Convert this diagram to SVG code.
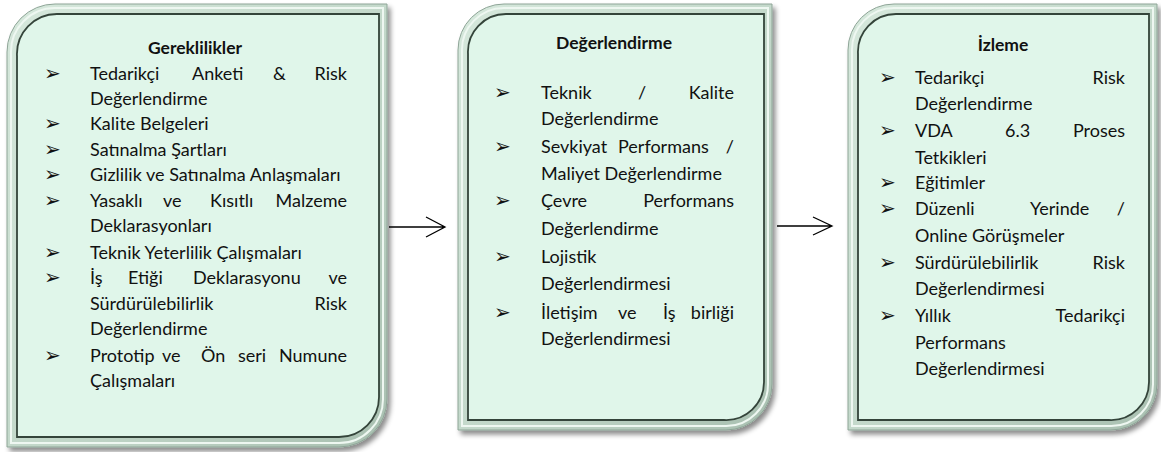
<svg xmlns="http://www.w3.org/2000/svg" width="1161" height="452" viewBox="0 0 1161 452">
<style>
  .t{font-family:Lato,"Noto Sans",sans-serif;font-size:18px;fill:#111}
  .h{font-family:Lato,"Noto Sans",sans-serif;font-size:17.5px;font-weight:bold;fill:#111;text-anchor:middle}
  .e{text-anchor:end}
  .b{font-family:"DejaVu Sans",sans-serif;font-size:20px;fill:#111}
  .outer{fill:url(#band);stroke:#8ea597;stroke-width:1;filter:url(#sh)}
  .hl{fill:none;stroke:#eef7f1;stroke-width:2}
  .inner{fill:#e0f6ea;stroke:#34443a;stroke-width:1.8}
  .conn{stroke:#000;stroke-width:1.3;fill:none}
</style>
<defs>
  <linearGradient id="band" x1="0" y1="0" x2="1" y2="1">
    <stop offset="0" stop-color="#d6e8dc"/>
    <stop offset="0.5" stop-color="#c4d9cb"/>
    <stop offset="1" stop-color="#a9c0b1"/>
  </linearGradient>
  <filter id="sh" x="-5%" y="-5%" width="115%" height="115%">
    <feDropShadow dx="3" dy="4" stdDeviation="2.5" flood-color="#000" flood-opacity="0.45"/>
  </filter>
</defs>
<rect width="1161" height="452" fill="#fff"/>

<g id="node-gereklilikler">
  <path class="outer" d="M7,52 A48,48 0 0 1 55,4 H387 V399 A48,48 0 0 1 339,447 H7 Z"/>
  <path class="hl" d="M11,54 A44,44 0 0 1 56,8 H383 V398 A44,44 0 0 1 339,443 H11 Z"/>
  <path class="inner" d="M17,56 A40,40 0 0 1 57,14 H379 V397 A40,40 0 0 1 339,437 H17 Z"/>
  <text class="h" x="195" y="54">Gereklilikler</text>
  <text class="b" x="44" y="80">➢</text>
  <text class="t" x="90" y="80">Tedarikçi</text><text class="t" x="192" y="80">Anketi</text><text class="t" x="273" y="80">&amp;</text><text class="t e" x="347" y="80">Risk</text>
  <text class="t" x="90" y="105">Değerlendirme</text>
  <text class="b" x="44" y="130">➢</text><text class="t" x="90" y="130">Kalite Belgeleri</text>
  <text class="b" x="44" y="156">➢</text><text class="t" x="90" y="156">Satınalma Şartları</text>
  <text class="b" x="44" y="181">➢</text><text class="t" x="90" y="181">Gizlilik ve Satınalma Anlaşmaları</text>
  <text class="b" x="44" y="207">➢</text>
  <text class="t" x="90" y="207">Yasaklı</text><text class="t" x="163" y="207">ve</text><text class="t" x="210" y="207">Kısıtlı</text><text class="t e" x="347" y="207">Malzeme</text>
  <text class="t" x="90" y="232">Deklarasyonları</text>
  <text class="b" x="44" y="259">➢</text><text class="t" x="90" y="259">Teknik Yeterlilik Çalışmaları</text>
  <text class="b" x="44" y="284">➢</text>
  <text class="t" x="90" y="284">İş</text><text class="t" x="128" y="284">Etiği</text><text class="t" x="193" y="284">Deklarasyonu</text><text class="t e" x="347" y="284">ve</text>
  <text class="t" x="90" y="310">Sürdürülebilirlik</text><text class="t e" x="347" y="310">Risk</text>
  <text class="t" x="90" y="335">Değerlendirme</text>
  <text class="b" x="44" y="362">➢</text>
  <text class="t" x="90" y="362">Prototip</text><text class="t" x="162" y="362">ve</text><text class="t" x="201" y="362">Ön</text><text class="t" x="238" y="362">seri</text><text class="t e" x="347" y="362">Numune</text>
  <text class="t" x="90" y="387">Çalışmaları</text>
</g>

<g id="node-degerlendirme">
  <path class="outer" d="M458,50 A46,46 0 0 1 504,4 H772 V384 A46,46 0 0 1 726,430 H458 Z"/>
  <path class="hl" d="M462,52 A42,42 0 0 1 505,8 H768 V383 A42,42 0 0 1 725,426 H462 Z"/>
  <path class="inner" d="M468,54 A38,38 0 0 1 506,14 H764 V382 A38,38 0 0 1 724,420 H468 Z"/>
  <text class="h" x="614" y="49">Değerlendirme</text>
  <text class="b" x="494" y="99">➢</text>
  <text class="t" x="541" y="99">Teknik</text><text class="t" x="638" y="99">/</text><text class="t e" x="734" y="99">Kalite</text>
  <text class="t" x="541" y="125">Değerlendirme</text>
  <text class="b" x="494" y="153">➢</text>
  <text class="t" x="541" y="153">Sevkiyat</text><text class="t" x="618" y="153">Performans</text><text class="t e" x="734" y="153">/</text>
  <text class="t" x="541" y="180">Maliyet Değerlendirme</text>
  <text class="b" x="494" y="207">➢</text>
  <text class="t" x="541" y="207">Çevre</text><text class="t e" x="734" y="207">Performans</text>
  <text class="t" x="541" y="235">Değerlendirme</text>
  <text class="b" x="494" y="263">➢</text><text class="t" x="541" y="263">Lojistik</text>
  <text class="t" x="541" y="290">Değerlendirmesi</text>
  <text class="b" x="494" y="319">➢</text>
  <text class="t" x="541" y="319">İletişim</text><text class="t" x="618" y="319">ve</text><text class="t" x="663" y="319">İş</text><text class="t e" x="734" y="319">birliği</text>
  <text class="t" x="541" y="345">Değerlendirmesi</text>
</g>

<g id="node-izleme">
  <path class="outer" d="M848,50 A46,46 0 0 1 894,4 H1157 V384 A46,46 0 0 1 1111,430 H848 Z"/>
  <path class="hl" d="M852,52 A42,42 0 0 1 895,8 H1153 V383 A42,42 0 0 1 1110,426 H852 Z"/>
  <path class="inner" d="M858,54 A38,38 0 0 1 896,14 H1149 V382 A38,38 0 0 1 1109,420 H858 Z"/>
  <text class="h" x="1003" y="51">İzleme</text>
  <text class="b" x="879" y="84">➢</text>
  <text class="t" x="915" y="84">Tedarikçi</text><text class="t e" x="1125" y="84">Risk</text>
  <text class="t" x="915" y="110">Değerlendirme</text>
  <text class="b" x="879" y="137">➢</text>
  <text class="t" x="915" y="137">VDA</text><text class="t" x="1005" y="137">6.3</text><text class="t e" x="1125" y="137">Proses</text>
  <text class="t" x="915" y="164">Tetkikleri</text>
  <text class="b" x="879" y="189">➢</text><text class="t" x="915" y="189">Eğitimler</text>
  <text class="b" x="879" y="215">➢</text>
  <text class="t" x="915" y="215">Düzenli</text><text class="t" x="1030" y="215">Yerinde</text><text class="t e" x="1125" y="215">/</text>
  <text class="t" x="915" y="242">Online Görüşmeler</text>
  <text class="b" x="879" y="269">➢</text>
  <text class="t" x="915" y="269">Sürdürülebilirlik</text><text class="t e" x="1125" y="269">Risk</text>
  <text class="t" x="915" y="295">Değerlendirmesi</text>
  <text class="b" x="879" y="322">➢</text>
  <text class="t" x="915" y="322">Yıllık</text><text class="t e" x="1125" y="322">Tedarikçi</text>
  <text class="t" x="915" y="349">Performans</text>
  <text class="t" x="915" y="375">Değerlendirmesi</text>
</g>

<g id="connectors">
  <path class="conn" d="M389,227 H445 M426,217 L445,227 L426,237"/>
  <path class="conn" d="M777,226 H832 M813,217 L832,226 L813,235"/>
</g>
</svg>
